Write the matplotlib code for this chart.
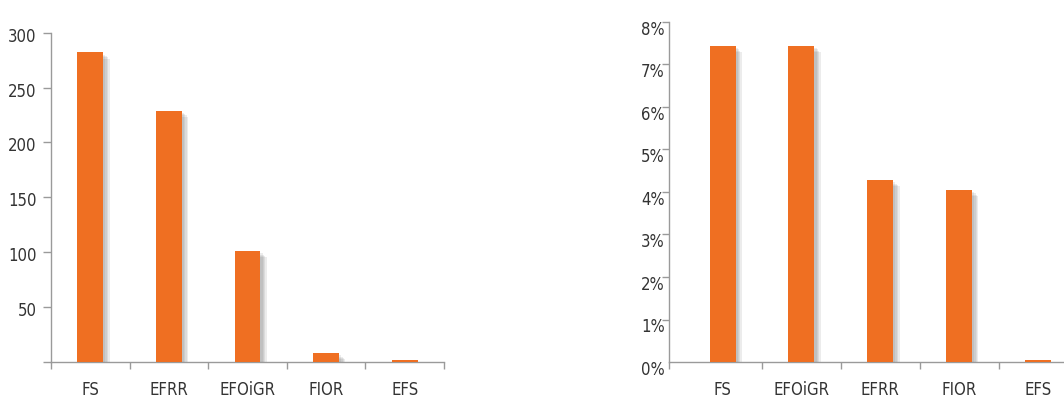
import numpy as np
import matplotlib.pyplot as plt
import matplotlib.patheffects as pe
import matplotlib.transforms as mtransforms
from matplotlib import font_manager

# counts per category
left_labels = ["FS", "EFRR", "EFOiGR", "FIOR", "EFS"]
left_values = [282, 229, 101, 8, 2]

# share per category, in percent
right_labels = ["FS", "EFOiGR", "EFRR", "FIOR", "EFS"]
right_values = [7.44, 7.44, 4.28, 4.05, 0.05]

bar_color = "#ef6f22"
axis_color = "#9a9a9a"
text_color = "#333333"

# a narrow face for all labels, if one is installed
narrow = [f for f in font_manager.fontManager.ttflist
          if ("Narrow" in f.name or "Condensed" in f.name
              or str(f.stretch) in ("condensed", "semi-condensed", "extra-condensed"))
          and f.weight in (400, "normal", "regular") and f.style == "normal"]
if narrow:
    fp = font_manager.FontProperties(fname=narrow[0].fname, size=12)
else:
    fp = font_manager.FontProperties(family="Liberation Sans", size=11)

W, H = 1064, 401
fig = plt.figure(figsize=(W / 100, H / 100), dpi=100)

# soft drop shadow behind the bars
shadow = [pe.SimplePatchShadow(offset=(k, -k), shadow_rgbFace="#707070", alpha=0.13)
          for k in (1.5, 2.5, 3.5, 4.5)] + [pe.Normal()]


def style_axes(ax):
    for s in ["top", "right"]:
        ax.spines[s].set_visible(False)
    for s in ["left", "bottom"]:
        ax.spines[s].set_color(axis_color)
        ax.spines[s].set_linewidth(1.0)
    ax.tick_params(axis="both", which="major", color=axis_color, width=1.0)


def set_font(labels):
    for lab in labels:
        lab.set_fontproperties(fp)
        lab.set_color(text_color)


#-----------------------------------------------------------
# left chart: counts
ax1 = fig.add_axes([51 / W, 39 / H, (444 - 51) / W, (362 - 32.7) / H])
x1 = np.arange(len(left_labels))
bars = ax1.bar(x1, left_values, width=0.33, color=bar_color, zorder=3)
for b in bars:
    b.set_path_effects(shadow)
ax1.set_xlim(-0.5, 4.5)
ax1.set_ylim(0, 300)
style_axes(ax1)
ax1.set_yticks(np.arange(0, 301, 50))
ax1.set_yticklabels([""] + [str(v) for v in range(50, 301, 50)])
ax1.tick_params(axis="y", length=6, pad=4.5)
ax1.set_xticks(np.arange(-0.5, 5, 1.0))
ax1.set_xticklabels([])
ax1.tick_params(axis="x", which="major", length=5)
ax1.set_xticks(x1, minor=True)
ax1.set_xticklabels(left_labels, minor=True)
ax1.tick_params(axis="x", which="minor", length=0, pad=14)
set_font(ax1.get_yticklabels())
set_font(ax1.get_xticklabels(minor=True))
off = mtransforms.ScaledTranslation(0, -2 / 100, fig.dpi_scale_trans)
for lab in ax1.get_yticklabels():
    lab.set_transform(lab.get_transform() + off)

#-----------------------------------------------------------
# right chart: percentages
ax2 = fig.add_axes([669 / W, 39 / H, (W - 669) / W, (362 - 22) / H])
x2 = np.arange(len(right_labels))
bars = ax2.bar(x2, right_values, width=0.33, color=bar_color, zorder=3)
for b in bars:
    b.set_path_effects(shadow)
ax2.set_xlim(-0.68, 4.33)
ax2.set_ylim(0, 8)
style_axes(ax2)
ax2.set_yticks(np.arange(0, 9, 1))
ax2.set_yticklabels([f"{v}%" for v in range(0, 9)])
ax2.tick_params(axis="y", length=5, pad=-2)
ax2.yaxis.get_major_ticks()[0].tick1line.set_visible(False)
ax2.set_xticks([-0.68, 0.5, 1.5, 2.5, 3.5])
ax2.set_xticklabels([])
ax2.tick_params(axis="x", which="major", length=5)
ax2.set_xticks(x2, minor=True)
ax2.set_xticklabels(right_labels, minor=True)
ax2.tick_params(axis="x", which="minor", length=0, pad=14)
set_font(ax2.get_yticklabels())
set_font(ax2.get_xticklabels(minor=True))
off = mtransforms.ScaledTranslation(0, -6 / 100, fig.dpi_scale_trans)
for lab in ax2.get_yticklabels():
    lab.set_transform(lab.get_transform() + off)

fig.savefig("out.png", dpi=100)
